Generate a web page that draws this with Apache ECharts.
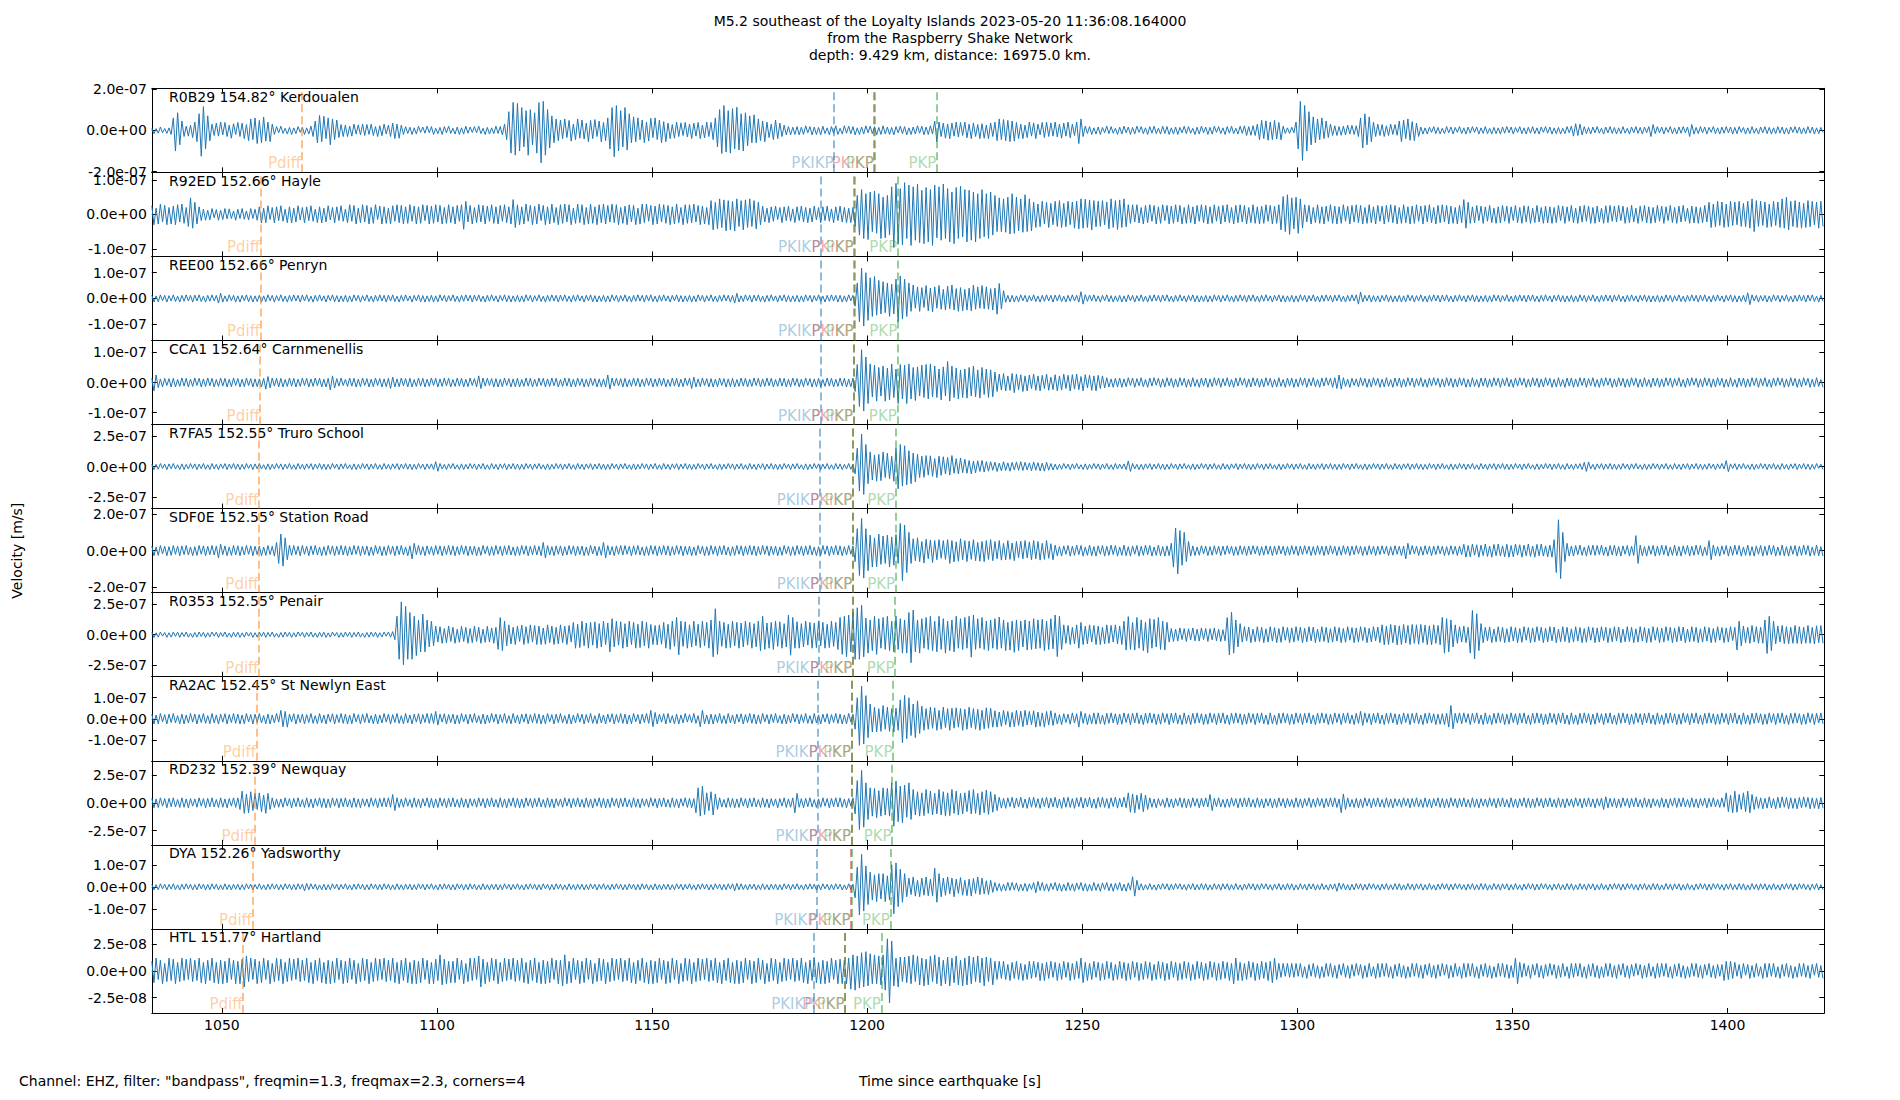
<!DOCTYPE html>
<html>
<head>
<meta charset="utf-8">
<script src="https://cdn.jsdelivr.net/npm/echarts@6/dist/echarts.min.js"></script>
<style>html,body{margin:0;padding:0;background:#fff}#chart{width:1900px;height:1100px}</style>
</head>
<body>
<div id="chart"></div>
<script>
// ---------------- data ----------------
const titleLines = [
  'M5.2 southeast of the Loyalty Islands 2023-05-20 11:36:08.164000',
  'from the Raspberry Shake Network',
  'depth: 9.429 km, distance: 16975.0 km.'
];
const yAxisTitle = 'Velocity [m/s]';
const xAxisTitle = 'Time since earthquake [s]';
const footNote = 'Channel: EHZ, filter: "bandpass", freqmin=1.3, freqmax=2.3, corners=4';

const stationCodes = ['R0B29','R92ED','REE00','CCA1','R7FA5','SDF0E','R0353','RA2AC','RD232','DYA','HTL'];
const stationDistances = [154.82,152.66,152.66,152.64,152.55,152.55,152.55,152.45,152.39,152.26,151.77];
const stationPlaces = ['Kerdoualen','Hayle','Penryn','Carnmenellis','Truro School','Station Road','Penair','St Newlyn East','Newquay','Yadsworthy','Hartland'];

// y limits (+/-) and tick values, in nm/s (1e-9 m/s)
const yLimits = [203,122,163,140,344,230,342,200,379,191,39.3];
const yTickValues = [200,100,100,100,250,200,250,100,250,100,25];

const xTicks = [1050,1100,1150,1200,1250,1300,1350,1400];
const xMin = 1033.7, xMax = 1422.5;
const sampleStart = 1033.7;   // s, time of first sample
const sampleStep = 0.5;       // s between samples (10 samples per row below = 5 s)

// phase arrivals (s) per station, same order as stationCodes
const phaseNames = ['Pdiff','PKIKP','PKiKP','PKP','PKP'];
const arrPdiff = [1068.5,1059.0,1059.0,1058.9,1058.6,1058.6,1058.6,1058.0,1057.7,1057.1,1054.9];
const arrPKIKP = [1192.3,1189.2,1189.2,1189.2,1188.9,1188.9,1188.8,1188.6,1188.6,1188.3,1187.6];
const arrPKiKP = [1201.6,1196.9,1196.9,1196.8,1196.6,1196.6,1196.6,1196.3,1196.3,1196.2,1194.8];
const arrPKPa  = [1201.7,1197.0,1197.0,1196.9,1196.7,1196.7,1196.7,1196.4,1196.4,1196.3,1194.9];
const arrPKPb  = [1216.2,1207.1,1207.1,1207.0,1206.6,1206.6,1206.5,1206.0,1205.8,1205.4,1203.3];

// velocity samples, nm/s, every 0.5 s from sampleStart (each row = 5 s)
const traceR0B29 = [
10,-16,8,-14,16,-12,9,-15,12,-20,
60,-100,85,-70,45,-30,20,-28,25,-35,
40,-55,80,-125,115,-90,70,-50,30,-25,
35,-28,40,-22,38,-30,25,-38,32,-20,
38,-30,35,-40,28,-50,55,-45,60,-64,
48,-60,64,-52,40,-55,30,-20,18,-12,
20,-15,10,-18,14,-20,12,-16,18,-10,
15,-20,12,-18,20,-30,45,-60,72,-55,
68,-40,60,-70,55,-45,50,-35,28,-30,
25,-30,20,-28,30,-18,26,-22,30,-25,
28,-20,30,-25,18,-30,22,-26,30,-18,
25,-30,35,-40,30,-38,25,-20,18,-15,
15,-20,12,-18,20,-10,16,-14,20,-12,
18,-20,10,-16,14,-20,18,-12,20,-15,
10,-18,16,-20,12,-18,20,-14,16,-10,
18,-12,20,-16,10,-20,14,-18,12,-16,
20,-15,18,-22,30,-45,90,-110,135,-120,
130,-100,110,-80,95,-120,100,-70,85,-110,
134,-157,140,-120,100,-85,70,-60,55,-50,
50,-40,55,-35,48,-52,30,-45,55,-38,
50,-42,35,-55,48,-40,52,-30,45,-55,
38,-50,60,-90,110,-128,120,-100,95,-80,
110,-95,80,-60,65,-55,60,-45,50,-60,
40,-52,58,-35,60,-45,50,-60,42,-55,
35,-40,28,-38,40,-30,36,-25,38,-32,
30,-40,35,-28,38,-40,25,-36,40,-30,
38,-45,60,-80,100,-112,120,-105,95,-110,
105,-90,112,-95,80,-100,85,-75,70,-60,
75,-60,55,-50,45,-55,40,-35,30,-45,
50,-40,35,-30,25,-22,18,-22,15,-20,
18,-22,15,-20,22,-12,18,-22,16,-20,
14,-22,20,-16,12,-22,18,-15,22,-20,
10,-18,22,-14,20,-16,18,-22,12,-20,
16,-18,22,-12,20,-16,18,-22,14,-20,
22,-18,16,-20,14,-22,18,-12,20,-16,
18,-22,12,-20,16,-18,22,-14,20,-22,
16,-20,22,-18,45,-55,40,-30,35,-38,
30,-40,35,-28,40,-32,38,-25,40,-36,
30,-40,36,-30,28,-40,32,-38,25,-40,
36,-30,40,-50,55,-45,52,-50,48,-55,
45,-52,38,-40,30,-40,25,-35,40,-28,
36,-40,30,-22,38,-35,40,-30,36,-28,
40,-32,30,-38,35,-28,40,-36,30,-25,
40,-64,55,-30,20,-15,18,-20,12,-18,
16,-20,14,-12,20,-16,18,-14,10,-20,
15,-18,20,-12,16,-20,14,-18,20,-10,
18,-16,12,-20,18,-14,20,-16,10,-18,
20,-15,18,-20,12,-18,16,-20,14,-12,
20,-16,18,-14,10,-20,15,-18,20,-12,
16,-20,14,-18,20,-10,18,-16,12,-20,
18,-14,20,-16,10,-18,20,-15,22,-25,
18,-24,22,-25,30,-45,48,-40,46,-48,
40,-45,48,-42,38,-46,20,-15,12,-15,
15,-12,40,-90,140,-145,120,-100,90,-70,
65,-60,55,-45,60,-40,45,-35,30,-25,
22,-25,18,-24,20,-22,25,-18,24,-20,
22,-30,60,-85,80,-70,65,-55,40,-30,
30,-25,28,-30,22,-25,30,-20,28,-24,
45,-55,50,-40,55,-48,42,-50,35,-30,
16,-18,12,-18,15,-10,18,-16,14,-18,
10,-16,18,-12,16,-18,14,-10,18,-16,
12,-18,16,-14,18,-10,16,-18,12,-15,
18,-16,10,-18,14,-16,12,-18,16,-14,
18,-12,16,-18,14,-10,18,-16,12,-18,
15,-14,18,-16,12,-18,16,-10,18,-14,
16,-18,12,-16,14,-18,10,-16,18,-12,
20,-28,32,-25,30,-22,18,-16,14,-18,
16,-12,18,-14,10,-18,16,-12,18,-15,
14,-18,12,-16,18,-14,10,-18,16,-12,
18,-15,14,-18,16,-12,18,-30,28,-16,
18,-12,16,-18,14,-10,18,-16,12,-18,
16,-14,18,-12,16,-30,28,-18,14,-16,
18,-12,16,-18,14,-10,18,-16,12,-18,
16,-14,18,-12,16,-18,14,-16,18,-10,
14,-18,12,-16,18,-14,10,-18,16,-12,
18,-16,14,-18,12,-16,18,-14,16,-18,
12,-18,16,-10,18,-14,16,-18,12,-16,
18,-14,16,-18,12,-16,14,-10];

const traceR92ED = [
25,-30,18,-28,30,-22,26,-30,20,-28,
24,-30,28,-22,30,-26,20,-35,48,-40,
35,-28,22,-18,15,-17,12,-16,17,-10,
14,-17,12,-15,17,-13,16,-12,10,-17,
15,-12,17,-14,10,-16,17,-12,15,-17,
22,-25,18,-24,25,-15,20,-25,22,-18,
25,-20,15,-24,22,-25,18,-22,25,-16,
20,-25,22,-18,25,-20,15,-24,22,-25,
18,-22,25,-16,20,-25,22,-18,25,-20,
15,-24,28,-20,26,-28,18,-24,28,-22,
26,-28,20,-26,28,-15,24,-28,22,-26,
18,-28,25,-20,28,-24,26,-28,22,-26,
28,-20,24,-28,22,-26,28,-18,26,-28,
24,-26,28,-22,26,-28,20,-26,28,-24,
22,-28,26,-20,28,-43,38,-22,26,-28,
20,-24,28,-22,26,-28,24,-20,28,-26,
22,-28,26,-20,28,-24,22,-28,43,-38,
28,-30,22,-28,30,-20,26,-30,24,-28,
30,-18,26,-30,22,-28,30,-24,20,-30,
28,-26,30,-22,28,-30,18,-26,30,-24,
28,-30,20,-28,30,-26,22,-30,28,-24,
30,-28,26,-22,30,-24,28,-30,20,-26,
24,-30,28,-22,26,-30,18,-28,30,-24,
30,-20,26,-30,24,-28,30,-22,28,-26,
26,-30,22,-28,30,-24,20,-30,28,-26,
28,-24,30,-22,26,-30,24,-28,20,-30,
40,-45,35,-42,45,-38,42,-48,40,-45,
38,-48,45,-35,40,-45,42,-38,45,-35,
40,-42,35,-30,24,-22,18,-24,22,-20,
24,-15,20,-24,22,-18,24,-20,16,-24,
22,-18,24,-22,20,-24,18,-22,24,-16,
20,-24,22,-18,24,-20,16,-24,22,-18,
24,-22,20,-24,18,-24,20,-35,55,-60,
72,-70,60,-73,65,-50,68,-55,60,-70,
50,-68,55,-60,80,-96,90,-85,75,-88,
92,-70,85,-90,80,-75,88,-82,70,-85,
78,-80,72,-90,85,-68,80,-75,88,-70,
75,-80,65,-85,78,-70,82,-65,72,-80,
70,-75,65,-80,60,-70,72,-65,60,-70,
65,-60,55,-50,48,-50,45,-52,50,-57,
60,-55,50,-48,45,-52,57,-50,45,-48,
35,-38,30,-36,38,-28,35,-38,32,-30,
38,-35,40,-38,32,-36,38,-30,36,-40,
38,-42,45,-40,44,-38,42,-45,40,-36,
38,-35,40,-30,36,-42,45,-38,40,-44,
42,-38,45,-36,28,-26,28,-22,28,-25,
20,-28,26,-24,28,-20,26,-28,22,-26,
28,-18,26,-28,24,-26,28,-22,26,-28,
20,-26,28,-24,22,-28,26,-20,28,-24,
26,-28,22,-26,28,-20,24,-28,26,-22,
28,-24,20,-28,26,-24,28,-22,26,-28,
20,-24,28,-26,22,-28,24,-26,28,-20,
26,-28,24,-26,28,-45,52,-50,57,-58,
48,-42,50,-55,45,-40,28,-22,26,-28,
20,-24,28,-26,22,-28,24,-20,28,-26,
24,-28,22,-26,28,-20,24,-28,26,-22,
28,-24,26,-28,20,-26,28,-24,22,-28,
26,-20,24,-28,26,-22,28,-24,26,-28,
20,-26,28,-24,22,-28,24,-26,28,-20,
24,-28,26,-22,28,-24,20,-28,26,-24,
28,-22,26,-28,24,-26,20,-28,26,-24,
43,-40,35,-26,22,-25,26,-18,24,-26,
22,-20,26,-24,18,-26,22,-25,26,-20,
24,-26,22,-18,26,-24,20,-26,25,-22,
24,-26,18,-24,26,-22,20,-26,24,-25,
22,-26,20,-24,26,-18,24,-26,22,-20,
26,-24,18,-26,24,-22,26,-20,24,-26,
20,-26,24,-22,18,-26,25,-24,26,-20,
24,-22,26,-18,24,-26,20,-24,26,-22,
18,-26,24,-20,26,-25,22,-26,20,-24,
26,-20,24,-26,22,-18,26,-24,20,-26,
24,-22,26,-20,18,-26,24,-25,22,-26,
20,-24,26,-22,35,-38,30,-36,38,-32,
36,-38,30,-36,38,-32,36,-30,38,-35,
32,-36,38,-40,45,-50,40,-35,38,-32,
36,-38,30,-36,38,-32,36,-38,45,-40,
50,-45,38,-35,40,-38,36,-40,32,-38,
40,-36,38,-30,36,-40,38,-35];

const traceREE00 = [
12,-14,10,-13,14,-9,12,-14,11,-10,
14,-12,9,-14,12,-11,14,-10,12,-14,
13,-10,14,-12,9,-14,12,-11,14,-10,
12,-18,20,-14,10,-12,14,-9,12,-14,
10,-14,12,-9,14,-13,11,-14,10,-12,
12,-14,10,-13,14,-9,12,-14,11,-10,
14,-12,9,-14,12,-11,14,-10,12,-14,
13,-10,14,-12,9,-14,12,-11,14,-10,
10,-14,12,-9,14,-13,11,-14,10,-12,
12,-14,10,-13,14,-9,12,-14,11,-10,
14,-12,9,-14,12,-11,14,-10,12,-14,
13,-10,14,-12,9,-14,12,-11,14,-10,
10,-14,12,-9,14,-13,11,-14,10,-12,
12,-14,10,-13,14,-9,12,-14,11,-10,
14,-12,9,-14,12,-11,14,-10,12,-14,
13,-10,14,-12,9,-14,12,-11,14,-10,
10,-14,12,-9,14,-13,11,-14,10,-12,
12,-14,10,-13,14,-9,12,-14,11,-10,
14,-12,9,-14,12,-11,14,-10,12,-14,
13,-10,14,-12,9,-14,12,-11,14,-10,
10,-14,12,-9,14,-13,11,-14,10,-12,
12,-14,10,-13,14,-9,12,-14,11,-10,
14,-12,9,-14,12,-11,14,-10,12,-14,
13,-10,14,-12,9,-14,12,-11,14,-10,
10,-14,12,-9,14,-13,11,-14,10,-12,
12,-14,10,-13,14,-9,12,-14,11,-10,
14,-12,9,-14,12,-11,14,-10,12,-14,
12,-18,20,-14,10,-12,14,-9,12,-14,
13,-10,14,-12,9,-14,12,-11,14,-10,
10,-14,12,-9,14,-13,11,-14,10,-12,
12,-14,10,-13,14,-9,12,-14,11,-10,
14,-12,9,-14,12,-11,14,-10,12,-14,
12,-14,10,-13,14,-9,12,-30,60,-90,
117,-107,100,-85,80,-70,85,-65,70,-60,
65,-55,60,-70,55,-60,75,-91,87,-80,
75,-70,60,-50,52,-38,45,-50,42,-35,
50,-48,40,-52,45,-38,50,-42,35,-45,
48,-40,52,-45,38,-50,42,-48,35,-45,
40,-48,52,-42,45,-38,50,-40,45,-42,
38,-45,40,-61,58,-40,30,-15,12,-14,
12,-14,10,-13,14,-9,12,-14,11,-10,
14,-12,9,-14,12,-11,14,-10,12,-14,
13,-10,14,-12,9,-14,12,-11,14,-10,
12,-14,26,-22,15,-11,13,-10,14,-12,
10,-14,12,-9,14,-13,11,-14,10,-12,
12,-14,10,-13,14,-9,12,-14,11,-10,
14,-12,9,-14,12,-11,14,-10,12,-14,
13,-10,14,-12,9,-14,12,-11,14,-10,
10,-14,12,-9,14,-13,11,-14,10,-12,
12,-14,10,-13,14,-9,12,-14,11,-10,
14,-12,9,-14,12,-11,14,-10,12,-14,
13,-10,14,-12,9,-14,12,-11,14,-10,
10,-14,12,-9,14,-13,11,-14,10,-12,
12,-14,10,-13,14,-9,12,-14,11,-10,
14,-12,9,-14,12,-11,14,-10,12,-14,
13,-10,14,-12,9,-14,12,-11,14,-10,
14,-22,25,-14,12,-10,13,-14,11,-12,
10,-14,12,-9,14,-13,11,-14,10,-12,
12,-14,10,-13,14,-9,12,-14,11,-10,
14,-12,9,-14,12,-11,14,-10,12,-14,
13,-10,14,-12,9,-14,12,-11,14,-10,
10,-14,12,-9,14,-13,11,-14,10,-12,
12,-14,10,-13,14,-9,12,-14,11,-10,
14,-12,9,-14,12,-11,14,-10,12,-14,
13,-10,14,-12,9,-14,12,-11,14,-10,
10,-14,12,-9,14,-13,11,-14,10,-12,
12,-14,10,-13,14,-9,12,-14,11,-10,
14,-12,9,-14,12,-11,14,-10,12,-14,
13,-10,14,-12,9,-14,12,-11,14,-10,
10,-14,12,-9,14,-13,11,-14,10,-12,
12,-14,10,-13,14,-9,12,-14,11,-10,
14,-12,9,-14,12,-11,14,-10,12,-14,
13,-10,14,-12,9,-14,12,-11,14,-10,
10,-14,12,-9,14,-13,11,-14,10,-12,
12,-14,22,-24,14,-10,12,-14,11,-10,
12,-14,10,-13,14,-9,12,-14,11,-10,
14,-12,9,-14,12,-11,14,-10,12,-14,
13,-10,14,-12,9,-14,12,-11];

const traceCCA1 = [
14,-28,25,-17,12,-15,14,-10,13,-15,
14,-15,10,-13,15,-12,14,-15,11,-13,
15,-10,14,-15,12,-13,15,-11,14,-15,
10,-13,15,-12,14,-15,11,-14,15,-10,
13,-15,11,-14,15,-10,13,-15,12,-14,
12,-15,14,-22,20,-18,15,-12,14,-15,
14,-15,10,-13,15,-12,14,-15,11,-13,
15,-10,14,-15,12,-13,15,-11,14,-15,
11,-15,14,-25,22,-18,13,-12,15,-10,
10,-13,15,-12,14,-15,11,-14,15,-10,
13,-15,11,-14,15,-10,13,-15,12,-14,
14,-20,18,-15,12,-14,15,-11,13,-15,
14,-15,10,-13,15,-12,14,-15,11,-13,
15,-10,14,-15,12,-13,15,-11,14,-15,
10,-13,15,-12,14,-15,11,-14,15,-10,
13,-15,22,-20,15,-12,14,-10,13,-15,
13,-15,11,-14,15,-10,13,-15,12,-14,
14,-15,10,-13,15,-12,14,-15,11,-13,
15,-10,14,-15,12,-13,15,-11,14,-15,
10,-13,15,-12,14,-15,11,-14,15,-10,
13,-15,11,-14,15,-10,13,-15,12,-14,
12,-15,25,-22,15,-12,14,-11,13,-15,
14,-15,10,-13,15,-12,14,-15,11,-13,
15,-10,14,-15,12,-13,15,-11,14,-15,
10,-13,15,-12,14,-15,11,-14,15,-10,
14,-20,18,-15,12,-14,15,-10,13,-15,
13,-15,11,-14,15,-10,13,-15,12,-14,
14,-15,10,-13,15,-12,14,-15,11,-13,
15,-10,14,-15,12,-13,15,-11,14,-15,
10,-13,15,-12,14,-15,11,-14,15,-10,
13,-15,11,-14,15,-10,13,-15,12,-14,
14,-15,10,-13,15,-12,14,-15,11,-13,
15,-12,14,-15,11,-14,15,-30,60,-80,
109,-95,85,-70,62,-48,58,-62,50,-45,
55,-62,48,-58,62,-50,45,-70,60,-55,
58,-70,62,-55,50,-60,52,-45,58,-50,
60,-55,62,-48,55,-50,45,-58,52,-45,
70,-62,55,-50,48,-55,42,-50,45,-52,
50,-45,55,-48,42,-52,50,-40,45,-50,
42,-48,35,-30,28,-25,30,-28,22,-26,
30,-34,28,-24,26,-30,22,-28,25,-20,
28,-26,22,-28,24,-20,28,-26,18,-24,
26,-28,22,-25,28,-20,24,-28,26,-22,
28,-24,20,-28,26,-18,24,-26,22,-28,
24,-20,22,-18,16,-15,12,-16,14,-15,
15,-16,12,-14,16,-10,15,-16,13,-11,
16,-14,10,-16,15,-12,16,-9,14,-16,
12,-15,16,-11,14,-16,12,-15,16,-10,
14,-16,11,-15,16,-13,10,-16,15,-12,
15,-16,12,-14,16,-10,15,-16,13,-11,
16,-14,10,-16,15,-12,16,-9,14,-16,
12,-15,16,-11,14,-16,12,-15,16,-10,
14,-16,11,-15,16,-13,10,-16,15,-12,
15,-16,12,-14,16,-10,15,-16,13,-11,
16,-14,10,-16,15,-12,16,-9,14,-16,
16,-20,25,-22,16,-13,11,-16,14,-10,
12,-15,16,-11,14,-16,12,-15,16,-10,
14,-16,11,-15,16,-13,10,-16,15,-12,
15,-16,12,-14,16,-10,15,-16,13,-11,
16,-14,10,-16,15,-12,16,-9,14,-16,
12,-15,16,-11,14,-16,12,-15,16,-10,
14,-16,11,-15,16,-13,10,-16,15,-12,
15,-16,12,-14,16,-10,15,-16,13,-11,
16,-14,10,-16,15,-12,16,-9,14,-16,
12,-15,16,-11,14,-16,12,-15,16,-10,
14,-16,11,-15,16,-13,10,-16,15,-12,
15,-16,12,-14,16,-10,15,-16,13,-11,
16,-14,10,-16,15,-12,16,-9,14,-16,
12,-15,16,-11,14,-16,12,-15,16,-10,
14,-16,11,-15,16,-13,10,-16,15,-12,
15,-16,12,-14,16,-10,15,-16,13,-11,
16,-14,10,-16,15,-12,16,-9,14,-16,
12,-15,16,-11,14,-16,12,-15,16,-10,
14,-16,11,-15,16,-13,10,-16,15,-12,
15,-16,12,-14,16,-10,15,-16,13,-11,
16,-14,10,-16,15,-12,16,-9,14,-16,
12,-15,16,-11,14,-16,12,-15,16,-10,
14,-16,11,-15,16,-13,10,-16];

const traceR7FA5 = [
20,-25,18,-22,25,-15,20,-25,22,-18,
25,-20,15,-24,22,-25,18,-20,25,-16,
22,-25,20,-18,25,-22,15,-24,25,-20,
18,-25,22,-16,24,-25,20,-18,25,-22,
20,-25,18,-22,25,-15,20,-25,22,-18,
25,-20,15,-24,22,-25,18,-20,25,-16,
22,-25,20,-18,25,-22,15,-24,25,-20,
18,-25,22,-16,24,-25,20,-18,25,-22,
20,-25,18,-22,25,-15,20,-25,22,-18,
25,-20,15,-24,22,-25,18,-20,25,-16,
22,-25,20,-18,25,-22,15,-24,25,-20,
18,-25,22,-16,24,-25,20,-18,25,-22,
20,-25,18,-22,25,-15,20,-25,22,-18,
22,-25,40,-38,25,-20,18,-25,22,-16,
25,-20,15,-24,22,-25,18,-20,25,-16,
22,-25,20,-18,25,-22,15,-24,25,-20,
18,-25,22,-16,24,-25,20,-18,25,-22,
20,-25,18,-22,25,-15,20,-25,22,-18,
25,-20,15,-24,22,-25,18,-20,25,-16,
22,-25,20,-18,25,-22,15,-24,25,-20,
18,-25,22,-16,24,-25,20,-18,25,-22,
20,-25,18,-22,25,-15,20,-25,22,-18,
25,-20,15,-24,22,-25,18,-20,25,-16,
22,-25,20,-18,25,-22,15,-24,25,-20,
18,-25,22,-16,24,-25,20,-18,25,-22,
20,-25,18,-22,25,-15,20,-25,22,-18,
25,-20,15,-24,22,-25,18,-20,25,-16,
22,-25,20,-18,25,-22,15,-24,25,-20,
18,-25,22,-16,24,-25,20,-18,25,-22,
20,-25,18,-22,25,-15,20,-25,22,-18,
25,-20,15,-24,22,-25,18,-20,25,-16,
22,-25,20,-18,25,-22,15,-24,25,-20,
22,-25,18,-20,25,-22,20,-60,150,-200,
266,-228,180,-140,120,-110,95,-120,100,-115,
120,-90,110,-100,85,-120,150,-182,180,-160,
170,-150,130,-140,110,-125,100,-90,85,-88,
90,-70,88,-80,65,-90,85,-72,80,-60,
75,-70,90,-55,65,-60,70,-50,60,-55,
50,-60,45,-52,48,-40,50,-45,40,-38,
40,-30,36,-40,28,-35,40,-32,30,-38,
35,-28,38,-30,40,-32,35,-28,30,-35,
38,-30,32,-36,28,-38,35,-30,25,-28,
20,-25,18,-22,25,-15,20,-25,22,-18,
25,-20,15,-24,22,-25,18,-20,25,-16,
22,-25,20,-18,25,-22,15,-24,25,-20,
20,-18,22,-25,46,-40,25,-20,18,-25,
18,-25,22,-16,24,-25,20,-18,25,-22,
20,-25,18,-22,25,-15,20,-25,22,-18,
25,-20,15,-24,22,-25,18,-20,25,-16,
22,-25,20,-18,25,-22,15,-24,25,-20,
18,-25,22,-16,24,-25,20,-18,25,-22,
20,-25,18,-22,25,-15,20,-25,22,-18,
25,-20,15,-24,22,-25,18,-20,25,-16,
22,-25,20,-18,25,-22,15,-24,25,-20,
18,-25,22,-16,24,-25,20,-18,25,-22,
20,-25,18,-22,25,-15,20,-25,22,-18,
25,-20,15,-24,22,-25,18,-20,25,-16,
22,-25,20,-18,25,-22,15,-24,25,-20,
18,-25,22,-16,24,-25,20,-18,25,-22,
20,-25,18,-22,25,-15,20,-25,22,-18,
25,-20,15,-24,22,-25,18,-20,25,-16,
22,-25,20,-18,25,-22,15,-24,25,-20,
18,-25,22,-16,24,-25,20,-18,25,-22,
20,-25,18,-22,25,-15,20,-25,22,-18,
25,-20,15,-24,22,-25,18,-20,25,-16,
22,-25,20,-18,25,-22,15,-24,25,-20,
18,-25,22,-16,24,-25,35,-40,38,-20,
18,-25,22,-16,24,-25,20,-18,25,-22,
20,-25,18,-22,25,-15,20,-25,22,-18,
25,-20,15,-24,22,-25,18,-20,25,-16,
22,-25,20,-18,25,-22,15,-24,25,-20,
18,-25,22,-16,24,-25,20,-18,25,-22,
20,-25,18,-22,25,-15,20,-25,22,-18,
25,-20,49,-42,22,-16,24,-25,20,-18,
25,-20,15,-24,22,-25,18,-20,25,-16,
22,-25,20,-18,25,-22,15,-24,25,-20,
18,-25,22,-16,24,-25,20,-18,25,-22,
20,-25,18,-22,25,-15,20,-25];

const traceSDF0E = [
25,-28,20,-26,28,-18,24,-28,22,-26,
28,-20,24,-28,26,-22,28,-24,20,-28,
22,-26,28,-20,26,-28,24,-22,28,-24,
25,-40,35,-22,26,-28,20,-26,28,-24,
26,-28,22,-24,28,-20,26,-28,24,-22,
25,-28,20,-26,28,-22,24,-30,45,-70,
91,-85,70,-50,30,-26,28,-22,24,-28,
28,-20,24,-28,26,-22,28,-24,20,-28,
22,-26,28,-20,26,-28,24,-22,28,-24,
26,-28,22,-24,28,-20,26,-28,24,-22,
25,-28,20,-26,28,-18,24,-28,22,-26,
28,-20,24,-28,26,-22,28,-24,20,-28,
26,-45,40,-22,28,-24,22,-28,26,-20,
22,-26,28,-20,26,-28,24,-22,28,-24,
26,-28,22,-24,28,-20,26,-28,24,-22,
25,-28,20,-26,28,-18,24,-28,22,-26,
28,-20,24,-28,26,-22,28,-24,20,-28,
22,-26,28,-20,26,-28,24,-22,28,-24,
24,-28,45,-40,28,-24,22,-28,26,-20,
26,-28,22,-24,28,-20,26,-28,24,-22,
25,-28,20,-26,28,-18,24,-28,22,-26,
45,-40,28,-24,22,-28,26,-20,28,-24,
28,-20,24,-28,26,-22,28,-24,20,-28,
22,-26,28,-20,26,-28,24,-22,28,-24,
26,-28,22,-24,28,-20,26,-28,24,-22,
25,-28,20,-26,28,-18,24,-28,22,-26,
28,-20,24,-28,26,-22,28,-24,20,-28,
22,-26,28,-20,26,-28,24,-22,28,-24,
26,-28,22,-24,28,-20,26,-28,24,-22,
25,-28,20,-26,28,-18,24,-28,22,-26,
28,-20,24,-28,26,-22,28,-24,20,-28,
22,-26,28,-20,26,-28,24,-22,28,-24,
26,-28,22,-24,28,-20,26,-60,120,-136,
176,-150,120,-110,85,-90,70,-88,90,-75,
80,-70,85,-90,75,-80,88,-70,149,-164,
140,-120,100,-70,65,-55,70,-60,50,-68,
62,-45,58,-65,55,-50,60,-42,55,-48,
60,-70,55,-62,48,-58,65,-50,55,-60,
52,-48,60,-55,45,-58,50,-60,55,-48,
60,-55,50,-45,55,-52,40,-50,55,-48,
42,-55,50,-38,52,-45,55,-40,48,-50,
55,-45,50,-52,40,-48,55,-42,38,-50,
30,-28,22,-30,26,-20,28,-30,24,-26,
30,-22,28,-30,20,-26,30,-28,22,-30,
26,-20,28,-30,24,-26,30,-22,28,-30,
20,-26,30,-28,22,-30,26,-20,28,-30,
24,-26,30,-22,28,-30,20,-26,30,-28,
22,-30,26,-28,40,-90,124,-127,110,-80,
100,-60,50,-30,26,-27,20,-25,27,-18,
24,-27,22,-25,27,-20,24,-27,25,-22,
27,-18,24,-27,22,-25,27,-20,24,-27,
25,-22,27,-18,24,-27,22,-25,27,-20,
24,-27,25,-22,27,-18,24,-27,22,-25,
27,-20,24,-27,25,-22,27,-18,24,-27,
22,-25,27,-20,24,-27,25,-22,27,-18,
24,-27,22,-25,27,-20,24,-27,25,-22,
27,-18,24,-27,22,-25,27,-20,24,-27,
25,-22,27,-18,24,-27,22,-25,27,-20,
24,-27,25,-45,40,-22,27,-18,24,-27,
22,-25,27,-20,24,-27,25,-22,27,-18,
24,-27,22,-25,27,-20,24,-27,25,-22,
35,-36,28,-34,36,-25,32,-36,30,-28,
36,-32,25,-36,34,-28,36,-30,26,-34,
35,-36,28,-34,36,-25,32,-36,30,-28,
36,-32,25,-36,34,-28,36,-30,26,-34,
30,-36,60,-120,169,-153,100,-60,40,-30,
25,-30,28,-22,30,-26,20,-30,28,-24,
30,-26,28,-22,30,-26,20,-30,28,-24,
30,-28,22,-30,26,-20,28,-30,24,-26,
82,-70,30,-28,22,-30,26,-20,28,-30,
24,-26,30,-22,28,-30,20,-26,30,-28,
22,-30,26,-20,28,-30,24,-26,30,-22,
28,-30,20,-26,55,-50,30,-28,22,-30,
26,-20,28,-30,24,-26,30,-22,28,-30,
20,-26,30,-28,22,-30,26,-20,28,-30,
24,-26,30,-22,28,-30,20,-26,30,-28,
22,-30,26,-20,28,-30,24,-26,30,-22,
28,-30,20,-26,30,-28,22,-30];

const traceR0353 = [
20,-22,15,-20,22,-12,18,-22,16,-20,
22,-14,20,-22,18,-15,22,-20,12,-22,
18,-20,22,-15,20,-22,16,-18,22,-12,
20,-22,18,-15,22,-20,14,-22,20,-18,
20,-22,15,-20,22,-12,18,-22,16,-20,
22,-14,20,-22,18,-15,22,-20,12,-22,
18,-20,22,-15,20,-22,16,-18,22,-12,
20,-22,18,-15,22,-20,14,-22,20,-18,
20,-22,15,-20,22,-12,18,-22,16,-20,
22,-14,20,-22,18,-15,22,-20,12,-22,
18,-20,22,-15,20,-22,16,-18,22,-12,
22,-20,25,-40,150,-200,267,-244,230,-200,
180,-200,150,-170,120,-140,167,-140,120,-100,
110,-90,70,-60,65,-70,50,-65,70,-55,
60,-70,45,-62,68,-55,60,-70,50,-65,
70,-55,60,-70,45,-62,68,-60,55,-70,
60,-120,139,-130,110,-90,80,-75,60,-80,
70,-55,78,-80,65,-70,80,-60,75,-80,
70,-80,55,-78,80,-65,70,-80,60,-75,
80,-65,70,-80,75,-60,100,-110,85,-105,
110,-90,95,-110,100,-85,105,-110,90,-100,
110,-80,95,-140,130,-100,110,-85,105,-110,
90,-100,110,-80,100,-110,85,-105,110,-90,
100,-110,83,-80,75,-83,80,-78,100,-110,
85,-120,110,-95,140,-164,110,-95,105,-110,
80,-100,110,-90,85,-105,110,-90,100,-110,
120,-180,211,-160,110,-95,100,-110,85,-105,
110,-90,100,-110,95,-100,110,-85,100,-110,
90,-100,110,-130,150,-120,95,-110,100,-120,
110,-95,105,-110,90,-100,160,-167,140,-110,
105,-110,90,-100,110,-85,100,-110,95,-105,
110,-90,100,-110,85,-105,110,-95,100,-120,
140,-160,150,-180,160,-140,180,-200,219,-200,
239,-180,135,-150,120,-130,150,-160,130,-110,
140,-120,150,-130,110,-140,150,-120,130,-150,
120,-150,180,-228,200,-140,120,-150,130,-110,
140,-120,150,-130,110,-140,150,-120,130,-150,
110,-130,120,-140,150,-110,130,-120,140,-110,
150,-183,160,-120,130,-110,140,-120,110,-130,
120,-110,130,-120,144,-110,120,-130,100,-125,
110,-144,120,-130,110,-100,120,-125,110,-120,
130,-115,120,-110,125,-130,110,-120,130,-115,
160,-178,150,-120,80,-70,75,-80,60,-75,
80,-110,100,-80,70,-75,80,-60,75,-80,
70,-80,60,-75,80,-70,75,-60,80,-75,
70,-80,110,-125,147,-120,100,-125,140,-110,
120,-130,100,-147,130,-110,125,-100,140,-120,
110,-125,100,-60,50,-55,45,-52,55,-40,
50,-55,48,-42,55,-50,45,-52,55,-40,
50,-55,48,-42,55,-50,45,-55,40,-50,
140,-164,183,-150,120,-100,90,-60,65,-50,
62,-65,45,-58,65,-55,60,-65,48,-60,
65,-52,58,-65,50,-62,65,-45,58,-65,
55,-60,65,-48,60,-65,52,-58,65,-50,
62,-65,45,-58,65,-55,60,-65,48,-60,
65,-52,58,-65,50,-62,65,-45,58,-65,
55,-60,65,-48,60,-65,52,-58,65,-50,
62,-65,80,-83,70,-80,83,-65,78,-83,
72,-80,83,-68,75,-80,83,-70,80,-78,
83,-65,78,-80,72,-83,80,-70,75,-83,
141,-150,130,-140,120,-100,80,-70,65,-60,
70,-65,60,-150,197,-197,170,-130,90,-65,
60,-50,62,-65,45,-58,65,-55,60,-65,
48,-60,65,-52,58,-65,50,-62,65,-45,
58,-65,55,-60,65,-48,60,-65,52,-58,
65,-50,62,-65,45,-58,65,-55,60,-65,
48,-60,65,-52,58,-65,50,-62,65,-45,
58,-65,55,-60,65,-48,60,-65,52,-58,
65,-50,62,-65,45,-58,65,-55,60,-65,
48,-60,65,-52,58,-65,50,-62,65,-45,
58,-65,55,-60,65,-48,60,-65,52,-58,
65,-50,62,-65,45,-58,65,-55,60,-65,
48,-60,65,-52,58,-65,50,-62,65,-45,
58,-65,55,-60,65,-48,60,-125,110,-90,
70,-65,60,-70,75,-60,65,-70,60,-70,
120,-153,150,-130,110,-75,70,-60,75,-72,
65,-75,60,-70,75,-72,65,-75,60,-70,
75,-70,60,-75,72,-65,75,-70];

const traceRA2AC = [
22,-25,18,-24,25,-15,20,-25,22,-18,
25,-20,15,-24,22,-25,18,-20,25,-16,
22,-25,20,-18,25,-22,15,-24,25,-20,
18,-25,22,-16,24,-25,20,-18,25,-22,
22,-25,18,-24,25,-15,20,-25,22,-18,
25,-20,15,-24,22,-25,18,-20,25,-16,
40,-38,35,-40,22,-15,24,-25,20,-18,
22,-25,20,-18,25,-22,15,-24,25,-20,
18,-25,22,-16,24,-25,20,-18,25,-22,
22,-25,18,-24,25,-15,20,-25,22,-18,
25,-20,15,-24,22,-25,18,-20,25,-16,
22,-25,20,-18,25,-22,15,-24,25,-20,
18,-25,22,-16,24,-25,20,-18,25,-22,
25,-22,35,-30,22,-16,24,-25,20,-18,
22,-25,18,-24,25,-15,20,-25,22,-18,
25,-20,15,-24,22,-25,18,-20,25,-16,
22,-25,20,-18,25,-22,15,-24,25,-20,
18,-25,22,-16,24,-25,20,-18,25,-22,
22,-25,18,-24,25,-15,20,-25,22,-18,
25,-20,15,-24,22,-25,18,-20,25,-16,
22,-25,20,-18,25,-22,15,-24,25,-20,
18,-25,22,-16,24,-25,20,-18,25,-22,
22,-25,18,-24,25,-15,20,-25,22,-18,
25,-22,40,-38,30,-25,22,-16,24,-25,
25,-20,15,-24,22,-25,18,-20,25,-16,
20,-18,25,-22,15,-38,40,-25,18,-25,
22,-25,20,-18,25,-22,15,-24,25,-20,
18,-25,22,-16,24,-25,20,-18,25,-22,
22,-25,18,-24,25,-15,20,-25,22,-18,
25,-20,15,-24,22,-25,18,-20,25,-16,
22,-25,20,-18,25,-22,15,-24,25,-20,
18,-25,22,-16,24,-25,20,-18,25,-22,
22,-25,18,-24,25,-15,22,-50,100,-127,
155,-120,110,-90,70,-63,55,-63,48,-60,
63,-50,55,-60,48,-63,50,-55,90,-114,
111,-95,100,-80,70,-90,85,-70,60,-55,
48,-50,55,-45,52,-55,40,-50,55,-42,
48,-55,50,-45,52,-40,48,-55,45,-50,
55,-42,48,-50,45,-55,40,-48,52,-45,
50,-40,38,-40,32,-36,40,-28,35,-40,
30,-38,40,-32,36,-38,40,-30,35,-28,
38,-40,32,-36,28,-40,35,-30,38,-32,
28,-25,20,-28,24,-18,22,-26,28,-20,
24,-40,35,-22,26,-28,20,-24,28,-26,
28,-24,18,-28,26,-22,28,-20,24,-28,
22,-26,28,-18,24,-28,26,-20,28,-24,
18,-28,26,-22,28,-20,24,-28,22,-26,
28,-18,24,-28,26,-20,28,-24,18,-28,
28,-24,18,-28,26,-22,28,-20,24,-28,
22,-26,28,-18,24,-28,26,-20,28,-24,
18,-28,26,-22,28,-20,24,-28,22,-26,
28,-18,24,-28,26,-20,28,-24,18,-28,
28,-24,18,-28,26,-22,28,-20,24,-28,
22,-26,28,-18,24,-28,26,-20,28,-24,
18,-28,26,-22,28,-20,24,-28,22,-26,
28,-18,24,-28,26,-20,28,-24,18,-28,
26,-22,35,-32,28,-18,24,-28,26,-20,
28,-24,18,-28,26,-22,28,-20,24,-28,
22,-26,28,-18,24,-28,26,-20,28,-24,
18,-28,26,-22,28,-20,24,-28,22,-26,
24,-28,26,-40,63,-48,26,-20,28,-24,
28,-18,24,-28,26,-20,28,-24,18,-28,
28,-24,18,-28,26,-22,28,-20,24,-28,
22,-26,28,-18,24,-28,26,-20,28,-24,
18,-28,26,-22,28,-20,24,-28,22,-26,
28,-18,24,-28,26,-20,28,-24,18,-28,
28,-24,18,-28,26,-22,28,-20,24,-28,
22,-26,28,-18,24,-28,26,-20,28,-24,
18,-28,26,-22,28,-20,24,-28,22,-26,
28,-18,24,-28,26,-20,28,-24,18,-28,
28,-24,18,-28,26,-22,28,-20,24,-28,
22,-26,28,-18,24,-28,26,-20,28,-24,
18,-28,26,-22,28,-20,24,-28,22,-26,
28,-18,24,-28,26,-20,28,-24,18,-28,
28,-24,18,-28,26,-22,28,-20,24,-28,
22,-26,28,-18,24,-28,26,-20,28,-24,
18,-28,26,-22,28,-20,24,-28,22,-26,
28,-18,24,-28,26,-20,28,-24];

const traceRD232 = [
40,-45,35,-42,45,-30,38,-45,40,-35,
45,-38,30,-42,45,-40,35,-45,38,-30,
35,-40,45,-30,38,-45,40,-35,45,-38,
30,-42,45,-40,35,-45,38,-30,45,-42,
45,-60,105,-95,80,-90,100,-70,85,-60,
90,-80,70,-95,85,-60,45,-42,35,-40,
35,-40,45,-30,38,-45,40,-35,45,-38,
30,-42,45,-40,35,-45,38,-30,45,-42,
40,-45,35,-42,45,-30,38,-45,40,-35,
45,-38,30,-42,45,-40,35,-45,38,-30,
35,-40,45,-30,38,-45,40,-35,45,-38,
45,-40,75,-70,45,-42,35,-40,45,-30,
30,-42,45,-40,35,-45,38,-30,45,-42,
40,-45,35,-42,45,-30,38,-45,40,-35,
45,-38,30,-42,45,-40,35,-45,38,-30,
35,-40,45,-30,38,-45,40,-35,45,-38,
30,-42,45,-40,35,-45,38,-30,45,-42,
40,-45,35,-42,45,-30,38,-45,40,-35,
45,-38,30,-42,45,-40,35,-45,38,-30,
35,-40,45,-30,38,-45,40,-35,45,-38,
30,-42,45,-40,35,-45,38,-30,45,-42,
40,-45,35,-42,45,-30,38,-45,40,-35,
45,-38,30,-42,45,-40,35,-45,38,-30,
35,-40,45,-30,38,-45,40,-35,45,-38,
30,-42,45,-40,35,-45,38,-30,45,-42,
40,-45,38,-90,135,-120,150,-105,90,-70,
100,-110,80,-60,45,-38,30,-42,45,-40,
40,-45,35,-42,45,-30,38,-45,40,-35,
45,-38,30,-42,45,-40,35,-45,38,-30,
35,-45,38,-30,45,-42,35,-40,45,-90,
85,-40,38,-45,40,-35,45,-38,30,-42,
35,-40,45,-30,38,-45,40,-35,45,-38,
45,-40,35,-45,38,-30,45,-100,200,-241,
292,-220,180,-150,135,-120,130,-135,110,-120,
135,-110,130,-120,180,-211,196,-170,150,-180,
160,-130,180,-150,120,-110,100,-120,90,-115,
120,-95,105,-110,85,-100,120,-110,100,-120,
90,-115,120,-95,105,-110,85,-100,90,-80,
110,-100,120,-95,85,-110,100,-90,115,-105,
100,-85,75,-70,50,-48,40,-50,45,-35,
50,-48,42,-38,50,-45,35,-50,48,-40,
50,-42,38,-50,45,-35,50,-48,42,-38,
50,-45,35,-50,48,-40,50,-42,38,-50,
45,-35,50,-48,42,-38,50,-45,35,-50,
48,-40,50,-42,38,-50,45,-35,50,-48,
42,-38,50,-45,90,-85,80,-90,70,-60,
85,-80,70,-60,45,-40,35,-45,38,-30,
30,-42,45,-40,35,-45,38,-30,45,-42,
40,-45,35,-42,45,-30,38,-45,40,-35,
45,-38,75,-70,40,-35,45,-38,30,-42,
35,-40,45,-30,38,-45,40,-35,45,-38,
45,-38,30,-42,45,-40,35,-45,38,-30,
40,-45,35,-42,45,-30,38,-45,40,-35,
30,-42,45,-40,35,-45,38,-30,45,-42,
35,-40,45,-30,38,-45,40,-35,45,-38,
45,-42,35,-90,80,-60,45,-38,30,-42,
40,-45,35,-42,45,-30,38,-45,40,-35,
45,-38,30,-42,45,-40,35,-45,38,-30,
35,-40,45,-30,38,-45,40,-35,45,-38,
30,-42,45,-40,35,-45,38,-30,45,-42,
40,-45,35,-42,45,-30,38,-45,40,-35,
45,-38,30,-42,45,-40,35,-45,38,-30,
35,-40,45,-30,38,-45,40,-35,45,-38,
30,-42,45,-40,35,-45,38,-30,45,-42,
40,-45,35,-42,45,-30,38,-45,40,-35,
45,-38,30,-42,45,-40,35,-45,38,-30,
35,-40,45,-30,38,-45,40,-35,45,-38,
35,-45,38,-30,42,-60,55,-45,40,-35,
40,-45,35,-42,45,-30,38,-45,40,-35,
45,-38,30,-42,45,-40,35,-45,38,-30,
30,-42,45,-40,35,-45,38,-30,45,-42,
40,-35,45,-38,30,-42,45,-40,35,-45,
38,-30,42,-45,40,-35,45,-38,30,-42,
45,-40,90,-80,70,-90,105,-85,75,-60,
90,-80,105,-90,75,-60,54,-50,45,-54,
40,-48,54,-45,38,-54,50,-45,54,-40,
48,-54,45,-50,40,-54,48,-45,54,-40,
48,-54,45,-50,40,-54,48,-45];

const traceDYA = [
12,-14,10,-13,14,-9,12,-14,11,-10,
14,-12,9,-14,12,-11,14,-10,12,-14,
10,-13,14,-9,12,-14,11,-13,14,-10,
12,-14,9,-13,14,-12,10,-14,12,-11,
12,-14,10,-13,14,-9,12,-14,11,-10,
14,-12,9,-14,12,-11,14,-10,12,-14,
10,-13,14,-9,12,-14,11,-13,14,-10,
12,-18,16,-13,14,-10,12,-14,9,-13,
12,-14,10,-13,14,-9,12,-14,11,-10,
14,-12,9,-14,12,-11,14,-10,12,-14,
10,-13,14,-9,12,-14,11,-13,14,-10,
12,-14,9,-13,14,-12,10,-14,12,-11,
12,-14,10,-13,14,-9,12,-14,11,-10,
14,-12,9,-14,12,-11,14,-10,12,-14,
10,-13,14,-9,12,-14,11,-13,14,-10,
12,-14,9,-13,14,-12,10,-14,12,-11,
12,-14,10,-13,14,-9,12,-14,11,-10,
14,-12,9,-14,12,-11,14,-10,12,-14,
10,-13,14,-9,12,-14,11,-13,14,-10,
12,-14,9,-13,14,-12,10,-14,12,-11,
12,-14,10,-13,14,-9,12,-14,11,-10,
14,-12,9,-14,12,-11,14,-10,12,-14,
10,-13,14,-9,12,-14,11,-13,14,-10,
12,-14,9,-13,14,-12,10,-14,12,-11,
12,-14,10,-13,14,-9,12,-14,11,-10,
14,-12,9,-14,12,-11,14,-10,12,-14,
10,-13,14,-9,12,-14,11,-13,14,-10,
14,-18,16,-13,14,-12,10,-14,12,-9,
12,-14,9,-13,14,-12,10,-14,12,-11,
12,-14,10,-13,14,-9,12,-14,11,-10,
14,-12,9,-14,12,-11,14,-10,12,-14,
10,-13,14,-9,12,-14,11,-13,14,-10,
12,-14,9,-13,14,-12,12,-50,90,-128,
148,-110,95,-80,67,-60,55,-67,60,-55,
60,-67,50,-60,100,-122,109,-90,80,-70,
60,-45,40,-35,45,-42,30,-45,40,-38,
45,-40,35,-42,85,-70,60,-45,40,-38,
45,-32,40,-45,35,-30,42,-38,30,-40,
35,-42,38,-30,45,-35,40,-32,28,-35,
30,-25,20,-18,15,-20,12,-18,20,-16,
20,-15,18,-20,12,-18,16,-20,14,-12,
20,-27,25,-16,20,-18,14,-20,16,-12,
20,-18,15,-20,12,-18,20,-16,14,-20,
18,-12,20,-18,15,-20,12,-18,20,-16,
14,-20,18,-12,20,-18,15,-20,16,-14,
20,-18,12,-20,18,-15,46,-42,30,-15,
14,-15,10,-13,15,-12,9,-15,13,-11,
15,-10,14,-15,12,-13,15,-9,14,-12,
10,-15,13,-11,15,-14,10,-13,15,-12,
14,-15,9,-13,15,-11,12,-15,14,-10,
14,-15,10,-13,15,-12,9,-15,13,-11,
15,-10,14,-15,12,-13,15,-9,14,-12,
10,-15,13,-11,15,-14,10,-13,15,-12,
14,-15,9,-13,15,-11,12,-15,14,-10,
14,-15,10,-13,15,-12,9,-15,13,-11,
14,-20,18,-11,15,-13,10,-15,12,-14,
15,-10,14,-15,12,-13,15,-9,14,-12,
10,-15,13,-11,15,-14,10,-13,15,-12,
14,-15,9,-13,15,-11,12,-15,14,-10,
14,-15,10,-13,15,-12,9,-15,13,-11,
15,-10,14,-15,12,-13,15,-9,14,-12,
10,-15,13,-11,15,-14,10,-13,15,-12,
14,-15,9,-13,15,-11,12,-15,14,-10,
14,-15,10,-13,15,-12,9,-15,13,-11,
15,-10,14,-15,12,-13,15,-9,14,-12,
10,-15,13,-11,15,-14,10,-13,15,-12,
14,-15,9,-13,15,-11,12,-15,14,-10,
14,-15,10,-13,15,-12,9,-15,13,-11,
15,-10,14,-15,12,-13,15,-9,14,-12,
10,-15,13,-11,15,-14,10,-13,15,-12,
14,-15,9,-13,15,-11,12,-15,14,-10,
14,-15,10,-13,15,-12,9,-15,13,-11,
15,-10,14,-15,12,-13,15,-9,14,-12,
10,-15,13,-11,15,-14,10,-13,15,-12,
14,-15,9,-13,15,-11,12,-15,14,-10,
14,-15,10,-13,15,-12,9,-15,13,-11,
15,-10,14,-15,12,-13,15,-9,14,-12,
10,-15,13,-11,15,-14,10,-13];

const traceHTL = [
9,-11,12,-8,10,-12,7,-10,12,-9,
11,-12,8,-10,12,-9,11,-8,12,-10,
10,-9,12,-11,8,-12,10,-9,12,-11,
8,-12,10,-12,9,-11,12,-8,10,-12,
9,-12,11,-15,14,-10,12,-8,11,-12,
9,-11,12,-8,10,-12,7,-10,12,-9,
11,-12,8,-10,12,-9,11,-8,12,-10,
10,-9,12,-11,8,-12,10,-9,12,-11,
8,-12,10,-12,9,-11,12,-8,10,-12,
9,-11,12,-8,10,-12,7,-10,12,-9,
11,-12,8,-10,12,-9,11,-8,12,-10,
10,-9,12,-11,8,-12,10,-9,12,-11,
8,-12,10,-12,9,-11,12,-8,10,-12,
8,-12,11,-9,15,-13,11,-12,9,-11,
9,-11,12,-8,10,-12,7,-10,12,-9,
12,-8,14,-15,11,-12,8,-10,12,-9,
11,-12,8,-10,12,-9,11,-8,12,-10,
10,-9,12,-11,8,-12,10,-9,12,-11,
8,-12,10,-12,9,-11,12,-8,10,-12,
10,-14,15,-12,9,-11,12,-8,10,-12,
9,-11,12,-8,10,-12,7,-10,12,-9,
11,-12,8,-10,12,-9,11,-8,12,-10,
10,-9,12,-11,8,-12,10,-9,12,-11,
8,-12,10,-12,9,-11,12,-8,10,-12,
9,-11,12,-8,10,-12,7,-10,12,-9,
11,-12,8,-10,12,-9,11,-8,12,-10,
10,-9,12,-11,8,-12,10,-9,12,-11,
8,-12,10,-12,9,-11,12,-8,10,-12,
9,-11,12,-8,10,-12,7,-10,12,-9,
11,-12,8,-10,12,-9,11,-8,12,-10,
10,-9,12,-11,8,-12,10,-9,12,-11,
8,-12,10,-12,9,-11,12,-8,10,-12,
11,-12,10,-12,12,-17,15,-18,14,-16,
17,-15,18,-14,16,-12,15,-12,14,-13,
15,-18,30,-30,28,-14,12,-15,13,-10,
13,-11,14,-12,15,-10,14,-13,12,-14,
11,-13,14,-10,15,-12,13,-14,10,-12,
13,-14,12,-11,14,-13,10,-14,12,-13,
14,-12,13,-10,14,-11,12,-14,13,-10,
12,-13,9,-8,9,-7,9,-8,6,-9,
8,-7,9,-8,7,-9,6,-8,9,-7,
9,-6,8,-9,7,-9,8,-7,9,-6,
8,-9,7,-8,9,-6,8,-9,7,-8,
9,-7,12,-11,8,-9,7,-8,9,-6,
8,-9,7,-8,9,-7,8,-9,6,-8,
9,-7,8,-9,7,-8,9,-6,8,-9,
7,-8,9,-7,8,-9,6,-8,9,-7,
8,-9,7,-8,9,-6,8,-9,7,-8,
9,-7,8,-9,6,-8,9,-7,8,-9,
7,-8,9,-6,8,-9,7,-8,9,-7,
8,-9,7,-12,12,-9,8,-9,7,-8,
9,-6,8,-9,7,-8,9,-7,8,-9,
9,-11,12,-8,7,-6,7,-5,7,-6,
7,-6,7,-5,7,-6,4,-7,6,-5,
7,-6,5,-7,4,-6,7,-5,7,-6,
5,-7,6,-4,7,-6,5,-7,6,-5,
7,-4,6,-7,5,-6,7,-5,4,-7,
7,-6,7,-5,7,-6,4,-7,6,-5,
7,-6,5,-7,4,-6,7,-5,7,-6,
5,-7,6,-4,7,-6,5,-7,6,-5,
7,-4,6,-7,5,-6,7,-5,4,-7,
7,-6,7,-5,7,-6,4,-7,6,-5,
7,-6,5,-7,4,-6,7,-5,7,-6,
6,-7,5,-6,12,-12,8,-6,7,-5,
5,-7,6,-4,7,-6,5,-7,6,-5,
7,-4,6,-7,5,-6,7,-5,4,-7,
7,-6,7,-5,7,-6,4,-7,6,-5,
7,-6,5,-7,4,-6,7,-5,7,-6,
5,-7,6,-4,7,-6,5,-7,6,-5,
7,-4,6,-7,5,-6,7,-5,4,-7,
7,-6,7,-5,7,-6,4,-7,6,-5,
7,-6,5,-7,4,-6,7,-5,7,-6,
5,-7,6,-4,7,-6,5,-7,6,-5,
6,-9,9,-8,9,-7,8,-5,6,-7,
7,-4,6,-7,5,-6,7,-5,4,-7,
7,-6,7,-5,7,-6,4,-7,6,-5,
7,-6,5,-7,4,-6,7,-5,7,-6,
5,-7,6,-4,7,-6,5,-7];

// ---------------- chart ----------------
const traces = [traceR0B29,traceR92ED,traceREE00,traceCCA1,traceR7FA5,traceSDF0E,traceR0353,traceRA2AC,traceRD232,traceDYA,traceHTL];
const phaseTimes = [arrPdiff, arrPKIKP, arrPKiKP, arrPKPa, arrPKPb];
const phaseColors = ['rgba(255,127,14,0.5)','rgba(31,119,180,0.5)','rgba(214,39,40,0.5)','rgba(44,160,44,0.5)','rgba(44,160,44,0.5)'];

const FONT = '"DejaVu Sans", sans-serif';
const plotLeft = 151.8, plotRight = 1824.3, plotTop = 88.3, panelH = 84.06;
const nPanels = stationCodes.length;

function sci(v) {
  if (v === 0) return '0.0e+00';
  const s = (v * 1e-9).toExponential(1);
  const parts = s.split('e');
  const n = parseInt(parts[1], 10);
  return parts[0] + 'e' + (n < 0 ? '-' : '+') + String(Math.abs(n)).padStart(2, '0');
}

const grids = [], xAxes = [], yAxes = [], series = [], graphics = [];
const axisLineStyle = { show: true, onZero: false, lineStyle: { color: '#000', width: 1 } };

for (let k = 0; k < nPanels; k++) {
  const top = plotTop + k * panelH;
  grids.push({ left: plotLeft, width: plotRight - plotLeft, top: top, height: panelH, containLabel: false });
  const lim = yLimits[k];
  const yt = [-yTickValues[k], 0, yTickValues[k]];
  const isLast = k === nPanels - 1;
  xAxes.push({
    type: 'value', gridIndex: k, position: 'bottom', min: xMin, max: xMax,
    axisLine: axisLineStyle,
    axisTick: { show: true, inside: true, length: 5, customValues: xTicks, lineStyle: { color: '#000' } },
    axisLabel: { show: isLast, customValues: xTicks, formatter: v => String(Math.round(v)), color: '#000', fontSize: 14, fontFamily: FONT, margin: 5 },
    splitLine: { show: false }
  });
  xAxes.push({
    type: 'value', gridIndex: k, position: 'top', min: xMin, max: xMax,
    axisLine: axisLineStyle,
    axisTick: { show: true, inside: true, length: 5, customValues: xTicks, lineStyle: { color: '#000' } },
    axisLabel: { show: false },
    splitLine: { show: false }
  });
  yAxes.push({
    type: 'value', gridIndex: k, position: 'left', min: -lim, max: lim,
    axisLine: axisLineStyle,
    axisTick: { show: true, inside: true, length: 5, customValues: yt, lineStyle: { color: '#000' } },
    axisLabel: { show: true, customValues: yt, formatter: sci, color: '#000', fontSize: 14, fontFamily: FONT, margin: 5 },
    splitLine: { show: false }
  });
  yAxes.push({
    type: 'value', gridIndex: k, position: 'right', min: -lim, max: lim,
    axisLine: axisLineStyle,
    axisTick: { show: true, inside: true, length: 5, customValues: yt, lineStyle: { color: '#000' } },
    axisLabel: { show: false },
    splitLine: { show: false }
  });

  const tr = traces[k];
  series.push({
    type: 'line', name: stationCodes[k],
    xAxisIndex: 2 * k, yAxisIndex: 2 * k,
    data: tr.map((v, i) => [sampleStart + i * sampleStep, v]),
    showSymbol: false, symbol: 'none', silent: true, animation: false, clip: true,
    lineStyle: { color: '#1f77b4', width: 1 },
    z: 2,
    markLine: {
      silent: true, symbol: ['none', 'none'], animation: false,
      label: { show: false },
      data: phaseNames.map((p, j) => ({
        xAxis: phaseTimes[j][k],
        lineStyle: { color: phaseColors[j], type: [8, 4], width: 2 }
      }))
    }
  });
  series.push({
    type: 'scatter', xAxisIndex: 2 * k, yAxisIndex: 2 * k,
    symbolSize: 1, silent: true, animation: false, z: 4,
    itemStyle: { color: 'rgba(0,0,0,0)' },
    data: phaseNames.map((p, j) => ({
      value: [phaseTimes[j][k], -lim * 0.786],
      label: { show: true, position: 'left', distance: 0, formatter: p, color: phaseColors[j], fontSize: 15, fontFamily: FONT }
    }))
  });
  graphics.push({
    type: 'text', left: 169, top: top + 0.5, silent: true,
    style: { text: stationCodes[k] + ' ' + stationDistances[k].toFixed(2) + '\u00b0 ' + stationPlaces[k], fill: '#000', font: '14px ' + FONT, lineHeight: 16 }
  });
}

graphics.push({
  type: 'text', silent: true, x: 17, y: 550.7, rotation: Math.PI / 2,
  style: { text: yAxisTitle, fill: '#000', font: '14px ' + FONT, align: 'center', verticalAlign: 'middle' }
});
graphics.push({
  type: 'text', silent: true, x: 19, y: 1081.3,
  style: { text: footNote, fill: '#000', font: '14px ' + FONT, align: 'left', verticalAlign: 'middle' }
});
graphics.push({
  type: 'text', silent: true, x: 950, y: 1081.3,
  style: { text: xAxisTitle, fill: '#000', font: '14px ' + FONT, align: 'center', verticalAlign: 'middle' }
});

const chart = echarts.init(document.getElementById('chart'), null, { renderer: 'svg' });
chart.setOption({
  backgroundColor: '#fff',
  animation: false,
  title: {
    text: titleLines.join('\n'), left: 'center', top: 8,
    textStyle: { fontSize: 14, fontWeight: 'normal', color: '#000', fontFamily: FONT, lineHeight: 16.7 }
  },
  grid: grids, xAxis: xAxes, yAxis: yAxes, series: series, graphic: graphics
});
</script>
</body>
</html>
